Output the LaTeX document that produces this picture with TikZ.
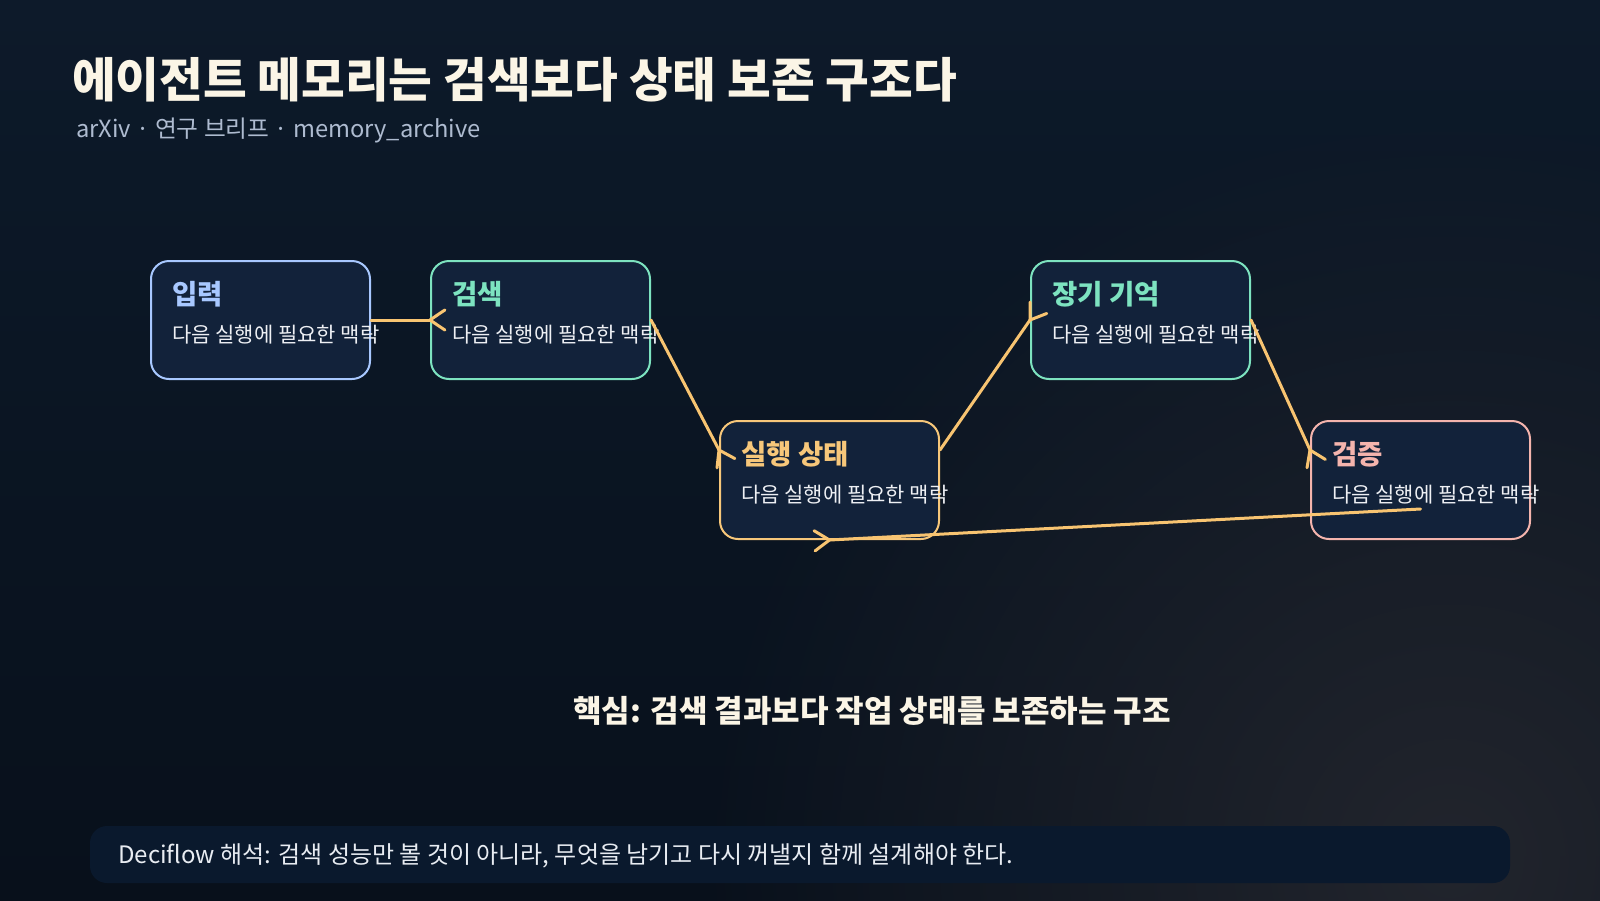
\documentclass[tikz,border=0pt]{standalone}
\usepackage{fontspec}
\setmainfont{Noto Sans CJK KR}
\usetikzlibrary{calc,fadings}
\definecolor{bgA}{HTML}{0D1A2A}
\definecolor{bgB}{HTML}{08101B}
\definecolor{bgGlow}{HTML}{22252D}
\definecolor{titlec}{HTML}{FBF5E6}
\definecolor{subc}{HTML}{AEBBD0}
\definecolor{boxfill}{HTML}{12223A}
\definecolor{cblue}{HTML}{A8C8FF}
\definecolor{cmint}{HTML}{7DE3C0}
\definecolor{camber}{HTML}{F7C77A}
\definecolor{cpink}{HTML}{F4B4AD}
\definecolor{arrowc}{HTML}{F8C471}
\definecolor{bodyc}{HTML}{EEF0F4}
\definecolor{barfill}{HTML}{0A192D}
\definecolor{bartext}{HTML}{E8ECF2}
\tikzfading[name=glowfade, inner color=transparent!0, outer color=transparent!100]
\newcommand\chevhead[2]{\draw[conn] ($(#2)!-18pt!34:(#1)$) -- (#2) -- ($(#2)!-18pt!-34:(#1)$);}
\tikzset{
  card/.style={draw=#1, line width=2pt, fill=boxfill, rounded corners=18pt,
    minimum width=219pt, minimum height=118pt, inner sep=0pt},
  cardtitle/.style={anchor=west, inner sep=0pt, text=#1, font=\fontsize{27.5pt}{31pt}\selectfont\bfseries},
  cardbody/.style={anchor=west, inner sep=0pt, text=bodyc, font=\fontsize{21pt}{25pt}\selectfont},
  conn/.style={draw=arrowc, line width=3pt, line cap=round, line join=round},
}
\begin{document}
\begin{tikzpicture}[x=1pt, y=-1pt]
\useasboundingbox (0,0) rectangle (1600,900);
% background
\shade[left color=bgA, right color=bgB, shading angle=0] (0,0) rectangle (1600,900);
\shade[top color=bgA, bottom color=bgB, opacity=0.6] (0,0) rectangle (1600,900);
\begin{scope}
\clip (0,0) rectangle (1600,900);
\fill[bgGlow, path fading=glowfade] (1450,860) circle (760);
\end{scope}
% title
\node[anchor=west, inner sep=0pt, text=titlec, font=\fontsize{47.5pt}{52pt}\selectfont\bfseries] (title) at (72,80) {에이전트 메모리는 검색보다 상태 보존 구조다};
\node[anchor=west, inner sep=0pt, text=subc, font=\fontsize{23.7pt}{27pt}\selectfont] (subtitle) at (76,130) {arXiv · 연구 브리프 · memory\_archive};
% cards
\node[card=cblue] (in) at (260.5,320) {};
\node[card=cmint] (se) at (540.5,320) {};
\node[card=camber] (ex) at (829.5,480) {};
\node[card=cmint] (lt) at (1140.5,320) {};
\node[card=cpink] (vf) at (1420.5,480) {};
\foreach \n/\t/\c in {in/입력/cblue, se/검색/cmint, ex/실행 상태/camber, lt/장기 기억/cmint, vf/검증/cpink}{
  \node[cardtitle=\c] (\n-t) at ($(\n.north west)+(22,34)$) {\t};
  \node[cardbody] (\n-b) at ($(\n.north west)+(22,75)$) {다음 실행에 필요한 맥락};
}
% connector points
\coordinate (exIn) at ($(ex.west)+(0,-30)$);
\coordinate (exOut) at ($(ex.east)+(0,-30)$);
\coordinate (vfIn) at ($(vf.west)+(0,-30)$);
\coordinate (vfOut) at ($(vf.center)+(0,29)$);
% connectors
\draw[conn] (in.east) -- (se.west); \chevhead{in.east}{se.west}
\draw[conn] (se.east) -- (exIn); \chevhead{se.east}{exIn}
\draw[conn] (exOut) -- (lt.west); \chevhead{exOut}{lt.west}
\draw[conn] (lt.east) -- (vfIn); \chevhead{lt.east}{vfIn}
\draw[conn] (vfOut) -- (ex.south); \chevhead{vfOut}{ex.south}
% key message
\node[inner sep=0pt, text=titlec, font=\fontsize{31pt}{35pt}\selectfont\bfseries] (key) at (872,711) {핵심: 검색 결과보다 작업 상태를 보존하는 구조};
% bottom bar
\node[fill=barfill, rounded corners=17pt, minimum width=1420pt, minimum height=57pt, inner sep=0pt] (bar) at (800,854.5) {};
\node[anchor=west, inner sep=0pt, text=bartext, font=\fontsize{24pt}{28pt}\selectfont] (bartxt) at (118,856) {Deciflow 해석: 검색 성능만 볼 것이 아니라, 무엇을 남기고 다시 꺼낼지 함께 설계해야 한다.};
\end{tikzpicture}
\end{document}
